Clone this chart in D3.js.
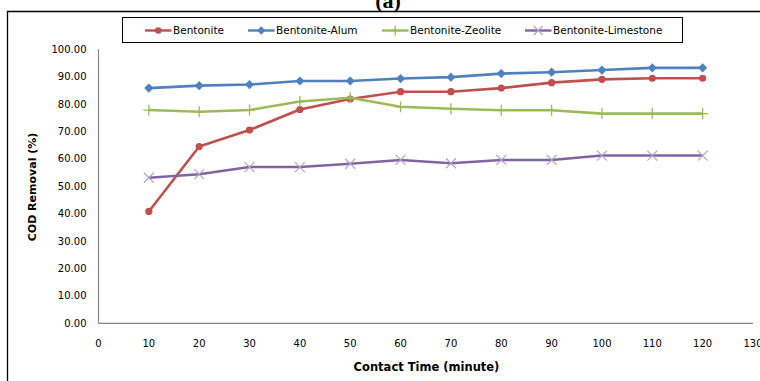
<!DOCTYPE html>
<html><head><meta charset="utf-8">
<script src="https://cdn.jsdelivr.net/npm/d3@7"></script>
<style>body{margin:0;background:#fff;}svg{display:block;}</style>
</head><body>
<svg id="c" width="760" height="381"></svg>
<script>
const times = [10,20,30,40,50,60,70,80,90,100,110,120];
const bentonite = [40.8,64.5,70.5,78.0,81.8,84.5,84.5,85.8,87.8,89.0,89.4,89.4];
const bentoniteAlum = [85.8,86.7,87.1,88.4,88.4,89.3,89.8,91.1,91.6,92.4,93.2,93.2];
const bentoniteZeolite = [77.8,77.2,77.8,80.9,82.3,79.0,78.3,77.7,77.7,76.5,76.5,76.5];
const bentoniteLimestone = [53.1,54.4,57.0,57.0,58.2,59.6,58.4,59.6,59.6,61.2,61.2,61.2];
const seriesNames = ["Bentonite","Bentonite-Alum","Bentonite-Zeolite","Bentonite-Limestone"];
const xTicks = [0,10,20,30,40,50,60,70,80,90,100,110,120,130];
const yTicks = [0,10,20,30,40,50,60,70,80,90,100];

const colors = ["#C0504D","#4F81BD","#9BBB59","#8064A2"];
const markers = ["circle","diamond","plus","cross"];
const seriesVals = [bentonite,bentoniteAlum,bentoniteZeolite,bentoniteLimestone];

const svg = d3.select("#c");
const x = d3.scaleLinear().domain([0,130]).range([98.5,753]);
const y = d3.scaleLinear().domain([0,100]).range([323.3,49.2]);

// outer frame
svg.append("path").attr("d","M7.5,400 V11.5 H770").attr("fill","none").attr("stroke","#000").attr("stroke-width",1.3);
// title
svg.append("text").attr("x",388).attr("y",8).attr("text-anchor","middle")
  .attr("font-family","Liberation Serif").attr("font-size",22).attr("font-weight","bold").text("(a)");

// axes
const ax = svg.append("g").attr("font-family","DejaVu Sans").attr("font-size",10).attr("fill","#000");
ax.append("line").attr("x1",x(0)).attr("x2",x(0)).attr("y1",y(100)).attr("y2",y(0)).attr("stroke","#868686").attr("stroke-width",1.2);
ax.append("line").attr("x1",x(0)).attr("x2",x(130)).attr("y1",y(0)).attr("y2",y(0)).attr("stroke","#868686").attr("stroke-width",1.2);
ax.selectAll(".yt").data(yTicks).enter().append("text")
  .attr("x",86.5).attr("y",d=>y(d)+3.5).attr("text-anchor","end").text(d=>d3.format(".2f")(d));
ax.selectAll(".xt").data(xTicks).enter().append("text")
  .attr("x",d=>x(d)).attr("y",346.5).attr("text-anchor","middle").text(d=>d);

svg.append("text").attr("x",426.5).attr("y",371).attr("text-anchor","middle")
  .attr("font-family","DejaVu Sans").attr("font-weight","bold").attr("font-size",11.5).text("Contact Time (minute)");
svg.append("text").attr("transform","translate(35.5,187) rotate(-90)").attr("text-anchor","middle")
  .attr("font-family","DejaVu Sans").attr("font-weight","bold").attr("font-size",11).text("COD Removal (%)");

function drawMarker(g, type, color, cx, cy, s) {
  if (type==="circle") g.append("circle").attr("cx",cx).attr("cy",cy).attr("r",3.6*s).attr("fill",color);
  else if (type==="diamond") g.append("path").attr("d",`M${cx},${cy-4.6*s}L${cx+4.6*s},${cy}L${cx},${cy+4.6*s}L${cx-4.6*s},${cy}Z`).attr("fill",color);
  else if (type==="plus") g.append("path").attr("d",`M${cx},${cy-5.5*s}V${cy+5.5*s}M${cx-5.5*s},${cy}H${cx+5.5*s}`).attr("stroke",color).attr("stroke-width",1.3);
  else if (type==="cross") g.append("path").attr("d",`M${cx-5*s},${cy-5*s}L${cx+5*s},${cy+5*s}M${cx-5*s},${cy+5*s}L${cx+5*s},${cy-5*s}`).attr("stroke","#b3a2c7").attr("stroke-width",1.2);
}

const line = d3.line().x(d=>x(d[0])).y(d=>y(d[1]));
seriesVals.forEach((vals,i)=>{
  const pts = times.map((t,j)=>[t,vals[j]]);
  const g = svg.append("g");
  g.append("path").datum(pts).attr("d",line).attr("fill","none").attr("stroke",colors[i]).attr("stroke-width",2.6).attr("stroke-linejoin","round");
  pts.forEach(p=>drawMarker(g,markers[i],colors[i],x(p[0]),y(p[1]),1));
});

// legend
const lg = svg.append("g");
lg.append("rect").attr("x",122.5).attr("y",17.5).attr("width",560).attr("height",25).attr("fill","#fff").attr("stroke","#000").attr("stroke-width",1);
const legX = [145,248,382,525];
seriesNames.forEach((n,i)=>{
  const g = lg.append("g");
  g.append("line").attr("x1",legX[i]).attr("x2",legX[i]+26.5).attr("y1",30.5).attr("y2",30.5).attr("stroke",colors[i]).attr("stroke-width",2.4);
  drawMarker(g,markers[i],colors[i],legX[i]+13.25,30.5,0.9);
  g.append("text").attr("x",legX[i]+28).attr("y",34).attr("font-family","DejaVu Sans").attr("font-size",10.5).attr("fill","#000").text(n);
});
</script>
</body></html>
